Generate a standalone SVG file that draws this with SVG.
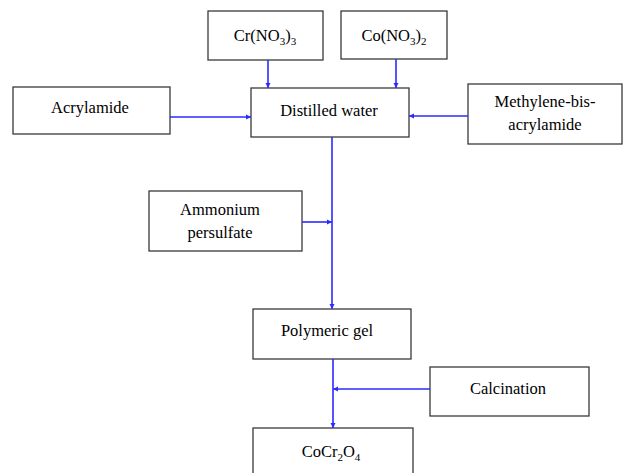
<svg xmlns="http://www.w3.org/2000/svg" width="624" height="473" viewBox="0 0 624 473">
<style>
.box{fill:#fff;stroke:#3a3a3a;stroke-width:1.3}
.t{font-family:"Liberation Serif","Times New Roman",serif;font-size:16.5px;fill:#000;text-anchor:middle}
.s{font-size:11px}
.c{stroke:#2b2bff;stroke-width:1.6;fill:none}
</style>
<defs>
<marker id="a" markerUnits="userSpaceOnUse" markerWidth="6" markerHeight="6" refX="5" refY="3" orient="auto">
<path d="M0,0.5 L5,3 L0,5.5 Z" fill="#2b2bff"/>
</marker>
</defs>
<rect width="624" height="473" fill="#fff"/>
<g id="cr"><rect class="box" x="208" y="11" width="115" height="49"/><text class="t" x="265" y="41">Cr(NO<tspan class="s" dy="4">3</tspan><tspan dy="-4">)</tspan><tspan class="s" dy="4">3</tspan></text></g>
<g id="co"><rect class="box" x="341" y="11" width="106" height="48"/><text class="t" x="394" y="41">Co(NO<tspan class="s" dy="4">3</tspan><tspan dy="-4">)</tspan><tspan class="s" dy="4">2</tspan></text></g>
<g id="water"><rect class="box" x="251" y="88" width="158" height="49"/><text class="t" x="329" y="116">Distilled water</text></g>
<g id="acryl"><rect class="box" x="13" y="87" width="157" height="47"/><text class="t" x="90" y="113">Acrylamide</text></g>
<g id="mba"><rect class="box" x="468" y="84" width="154" height="60"/><text class="t" x="545" y="107">Methylene-bis-</text><text class="t" x="545" y="130">acrylamide</text></g>
<g id="aps"><rect class="box" x="149" y="191" width="153" height="60"/><text class="t" x="220" y="215">Ammonium</text><text class="t" x="220" y="238">persulfate</text></g>
<g id="gel"><rect class="box" x="253" y="309" width="158" height="50"/><text class="t" x="327" y="336">Polymeric gel</text></g>
<g id="calc"><rect class="box" x="430" y="367" width="159" height="49"/><text class="t" x="508" y="394">Calcination</text></g>
<g id="product"><rect class="box" x="253" y="428" width="160" height="50"/><text class="t" x="331" y="457">CoCr<tspan class="s" dy="4">2</tspan><tspan dy="-4">O</tspan><tspan class="s" dy="4">4</tspan></text></g>
<g id="connectors">
<path class="c" d="M268,60 V88" marker-end="url(#a)"/>
<path class="c" d="M396,59 V88" marker-end="url(#a)"/>
<path class="c" d="M170,117 H251" marker-end="url(#a)"/>
<path class="c" d="M468,116 H409" marker-end="url(#a)"/>
<path class="c" d="M332,137 V309" marker-end="url(#a)"/>
<path class="c" d="M302,222 H332" marker-end="url(#a)"/>
<path class="c" d="M333,359 V428" marker-end="url(#a)"/>
<path class="c" d="M430,389 H333" marker-end="url(#a)"/>
</g>
</svg>
